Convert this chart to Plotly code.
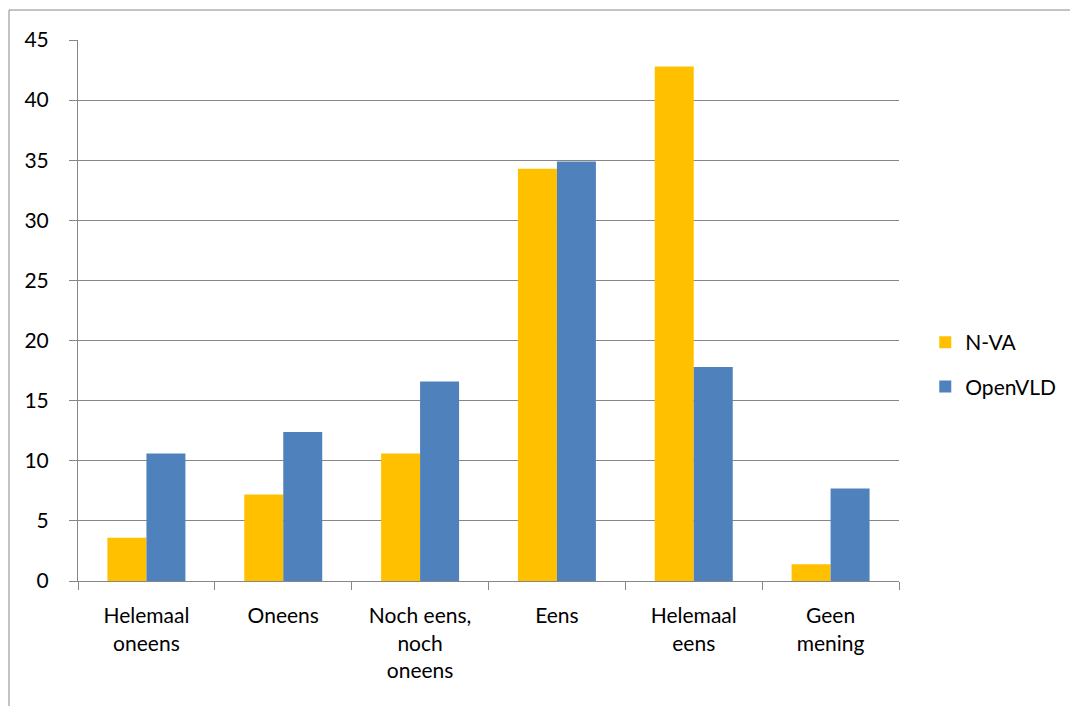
import plotly.graph_objects as go

categories = ["Helemaal<br>oneens", "Oneens", "Noch eens,<br>noch<br>oneens", "Eens", "Helemaal<br>eens", "Geen<br>mening"]
nva = [3.6, 7.2, 10.6, 34.3, 42.8, 1.4]
openvld = [10.6, 12.4, 16.6, 34.9, 17.8, 7.7]
y_ticks = [0, 5, 10, 15, 20, 25, 30, 35, 40, 45]

font_family = "Lato, Carlito, Calibri, 'Open Sans', sans-serif"
fig = go.Figure()
fig.add_trace(go.Bar(name="N-VA", x=categories, y=nva, legendgroup="a",
                     marker=dict(color="#FFC000", line=dict(width=0))))
fig.add_trace(go.Bar(name="OpenVLD", x=categories, y=openvld, legendgroup="b",
                     marker=dict(color="#4F81BD", line=dict(width=0))))

fig.update_layout(
    width=1070, height=698,
    margin=dict(l=70, r=179, t=32, b=125, autoexpand=False),
    paper_bgcolor="white", plot_bgcolor="white",
    barmode="group", bargap=0.43, bargroupgap=0,
    font=dict(family=font_family, size=21, color="black"),
    legend=dict(x=1.032, y=0.40, xanchor="left", yanchor="middle",
                font=dict(size=21), itemwidth=30, tracegroupgap=14),
    showlegend=True,
    xaxis=dict(
        type="category", showline=True, linecolor="#868686", linewidth=1,
        ticks="outside", tickson="boundaries", ticklen=8, tickcolor="#868686",
        showgrid=False, tickfont=dict(size=21), ticklabelstandoff=16,
    ),
    yaxis=dict(
        range=[0, 45], tickvals=y_ticks, showline=True, linecolor="#868686", linewidth=1,
        ticks="outside", ticklen=8, tickcolor="#868686",
        showgrid=True, gridcolor="#868686", gridwidth=1, zeroline=False,
        tickfont=dict(size=21), ticklabelstandoff=16,
    ),
    shapes=[dict(type="rect", xref="paper", yref="paper",
                 x0=(9 - 78) / 821, x1=1.5, y0=-0.5, y1=(581 - 10) / 541,
                 line=dict(color="#888888", width=1), layer="below")],
)

fig.write_html("out.html")
